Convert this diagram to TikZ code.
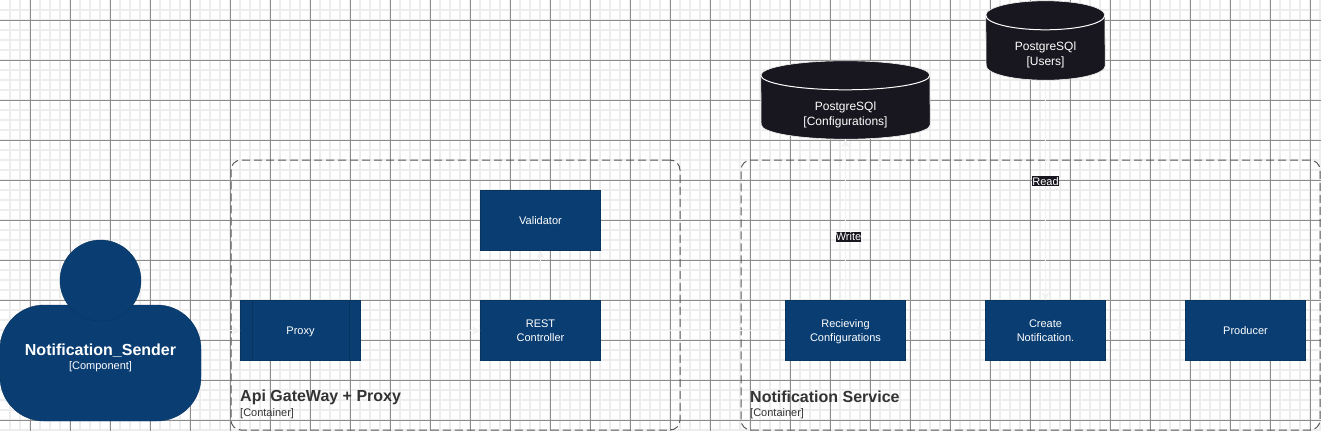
\documentclass[tikz,border=0pt]{standalone}
\usepackage{fontspec}
\setmainfont{Liberation Sans}
\usetikzlibrary{positioning,calc,arrows.meta}
\definecolor{boxblue}{HTML}{0A3E73}
\definecolor{boxedge}{HTML}{073560}
\definecolor{dbblack}{HTML}{18161E}
\definecolor{wirewhite}{HTML}{F1F1F1}
\tikzset{
  comp/.style={rectangle,draw=boxedge,fill=boxblue,text=white,minimum width=120pt,minimum height=60pt,inner sep=0pt,align=center,text depth=0pt,font=\fontsize{11}{14}\selectfont},
  dbase/.style={rectangle,inner sep=0pt},
  dbtext/.style={text=white,align=center,font=\fontsize{12}{15}\selectfont},
  wire/.style={draw=wirewhite,line width=.9pt,-{Stealth[length=8pt,width=8pt]}},
  wirelabel/.style={fill=dbblack,text=white,inner xsep=0pt,inner ysep=1pt,font=\fontsize{11}{11}\selectfont},
  container/.style={rectangle,draw=black!65,line width=1pt,dash pattern=on 8pt off 4pt,rounded corners=10pt,inner sep=0pt},
  boxtitle/.style={anchor=west,inner sep=0pt,text=black!80,font=\bfseries\fontsize{16}{16}\selectfont},
  boxtype/.style={anchor=west,inner sep=0pt,text=black!80,font=\fontsize{11}{11}\selectfont}
}
\newcommand{\drumshape}[2]{
  \filldraw[draw=wirewhite,fill=dbblack,line width=.6pt] ($(#1.north west)+(0,14.5)$) arc[start angle=180,end angle=0,x radius=#2pt,y radius=14.5pt] -- ($(#1.south east)+(0,-14.5)$) arc[start angle=0,end angle=-180,x radius=#2pt,y radius=14.5pt] -- cycle;
  \draw[white,line width=1pt] ($(#1.north west)+(0,14.5)$) arc[start angle=180,end angle=360,x radius=#2pt,y radius=14.5pt];
}
\begin{document}
\begin{tikzpicture}[x=1pt,y=-1pt]
\useasboundingbox[fill=white] (0,0) rectangle (1321,431);
% grid
\foreach \i in {1,...,132} \draw[black!7,line width=1.5pt] (10*\i,0) -- (10*\i,431);
\foreach \j in {1,...,43} \draw[black!7,line width=1.5pt] (0,10*\j) -- (1321,10*\j);
\foreach \i in {0,...,32} \draw[black!45,line width=.9pt] (30+40*\i,0) -- (30+40*\i,431);
\foreach \j in {0,...,10} \draw[black!45,line width=.9pt] (0,20+40*\j) -- (1321,20+40*\j);
% containers
\node[container,minimum width=449pt,minimum height=270pt] (gateway) at (455.5,295) {};
\node[container,minimum width=579pt,minimum height=270pt] (service) at (1030.5,295) {};
\node[boxtitle] (gatewaytitle) at (240,397) {Api GateWay + Proxy};
\node[boxtype] (gatewaytype) at (240,414) {[Container]};
\node[boxtitle] (servicetitle) at (750,397) {Notification Service};
\node[boxtype] (servicetype) at (750,414) {[Container]};
% person
\node[rectangle,draw=boxedge,fill=boxblue,rounded corners=44pt,minimum width=201pt,minimum height=116pt,inner sep=0pt] (senderbody) at (100.5,363) {};
\node[circle,draw=boxedge,fill=boxblue,minimum size=81pt,inner sep=0pt] (senderhead) at (100.5,280.5) {};
\node[text=white,align=center,inner sep=0pt] (sendertext) at (100.5,358) {{\bfseries\fontsize{16}{16}\selectfont Notification\_Sender}\\[2pt]{\fontsize{11}{13}\selectfont [Component]}};
% boxes
\node[comp] (proxy) at (300.5,330.5) {Proxy};
\draw[boxedge] ([xshift=12pt]proxy.north west) -- ([xshift=12pt]proxy.south west);
\draw[boxedge] ([xshift=-12pt]proxy.north east) -- ([xshift=-12pt]proxy.south east);
\node[comp] (validator) at (540.5,220.5) {Validator};
\node[comp] (rest) at (540.5,330.5) {REST\\Controller};
\node[comp] (recieving) at (845.5,330.5) {Recieving\\Configurations};
\node[comp] (create) at (1045.5,330.5) {Create\\Notification.};
\node[comp] (producer) at (1245.5,330.5) {Producer};
% databases
\node[dbase,minimum width=169pt,minimum height=78pt] (configdb) at (845.5,100) {};
\node[dbase,minimum width=119pt,minimum height=79pt] (usersdb) at (1045.5,40.5) {};
\drumshape{configdb}{84.5}
\drumshape{usersdb}{59.5}
\node[dbtext] (configtext) at (845.5,114.5) {PostgreSQl\\{[Configurations]}};
\node[dbtext] (userstext) at (1045.5,54.5) {PostgreSQl\\{[Users]}};
% connectors
\draw[wire] (proxy.west -| senderbody.east) -- (proxy.west);
\draw[wire] (proxy) -- (rest);
\draw[wire] (rest) -- (validator);
\draw[wire] (rest) -- (recieving);
\draw[wire] (recieving) -- (create);
\draw[wire] (create) -- (producer);
\draw[wire] (recieving) -- node[wirelabel,pos=.395,xshift=3pt] (writelabel) {Write} (configdb);
\draw[wire] (usersdb) -- node[wirelabel,pos=.46] (readlabel) {Read} (create);
\end{tikzpicture}
\end{document}
